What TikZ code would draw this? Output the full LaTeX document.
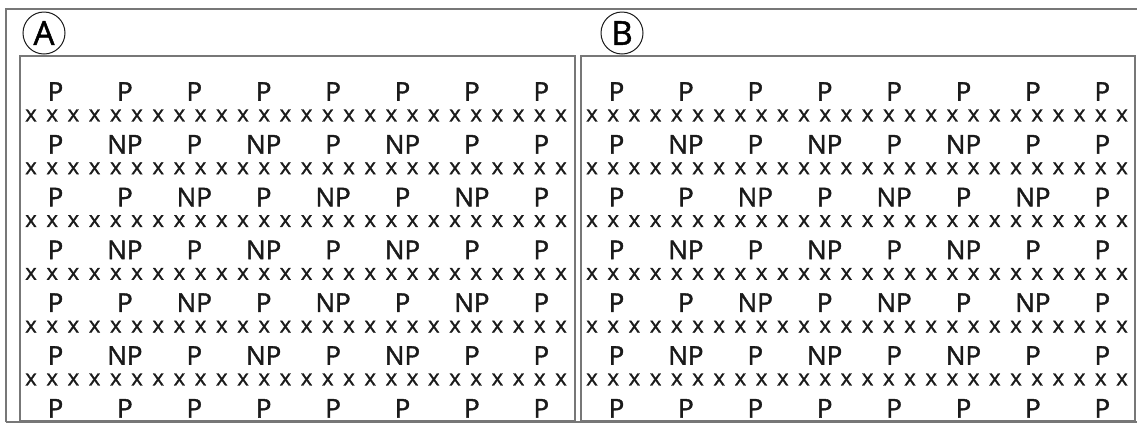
\documentclass[tikz,border=0pt]{standalone}
\usepackage{fontspec}
\setmainfont{Open Sans}
\newfontfamily\heavyfont{Open Sans}[FakeBold=1.5]
\newfontfamily\xfont{Open Sans}[FakeBold=1.2]
\definecolor{frame}{HTML}{777777}
\definecolor{ink}{HTML}{1a1a1a}
\begin{document}
\begin{tikzpicture}[x=1pt,y=-1pt,
  framebox/.style={draw=frame,line width=1.6pt},
  lbl/.style={text=ink,inner sep=0pt,font=\heavyfont\fontsize{26}{26}\selectfont},
  xmark/.style={text=ink,inner sep=0pt,font=\xfont\fontsize{22}{22}\selectfont},
  tag/.style={draw=ink,line width=1pt,circle,minimum size=42pt,inner sep=0pt,text=black,font=\heavyfont\fontsize{33}{33}\selectfont}]
\useasboundingbox (0,0) rectangle (1137,424);
% frames
\draw[framebox] (6,422) -- (6,9) -- (1137,9);
\draw[framebox] (20,421) rectangle (575,56);
\draw[framebox] (581,421) rectangle (1135,56);
\draw[framebox] (6,422) -- (1137,422);
% panel tags
\node[tag] (tagA) at (44,33) {A};
\node[tag] (tagB) at (622,33) {B};
% grids
\foreach \pn/\ox in {a/20,b/581}{
  \foreach \r in {1,...,7}{
    \foreach \c in {1,...,8}{
      \pgfmathtruncatemacro{\isnp}{((\r==2 || \r==4 || \r==6) && (\c==2 || \c==4 || \c==6)) || ((\r==3 || \r==5) && (\c==3 || \c==5 || \c==7)) ? 1 : 0}
      \ifnum\isnp=1
        \node[lbl] (\pn-p-\r-\c) at ({\ox+35.5+(\c-1)*69.4},{91.5+(\r-1)*52.8}) {NP};
      \else
        \node[lbl] (\pn-p-\r-\c) at ({\ox+35.5+(\c-1)*69.4},{91.5+(\r-1)*52.8}) {P};
      \fi
    }
  }
  \foreach \r in {1,...,6}{
    \foreach \k in {1,...,26}{
      \node[xmark] (\pn-x-\r-\k) at ({\ox+11+(\k-1)*21.2},{115.5+(\r-1)*52.8}) {x};
    }
  }
}
\end{tikzpicture}
\end{document}
